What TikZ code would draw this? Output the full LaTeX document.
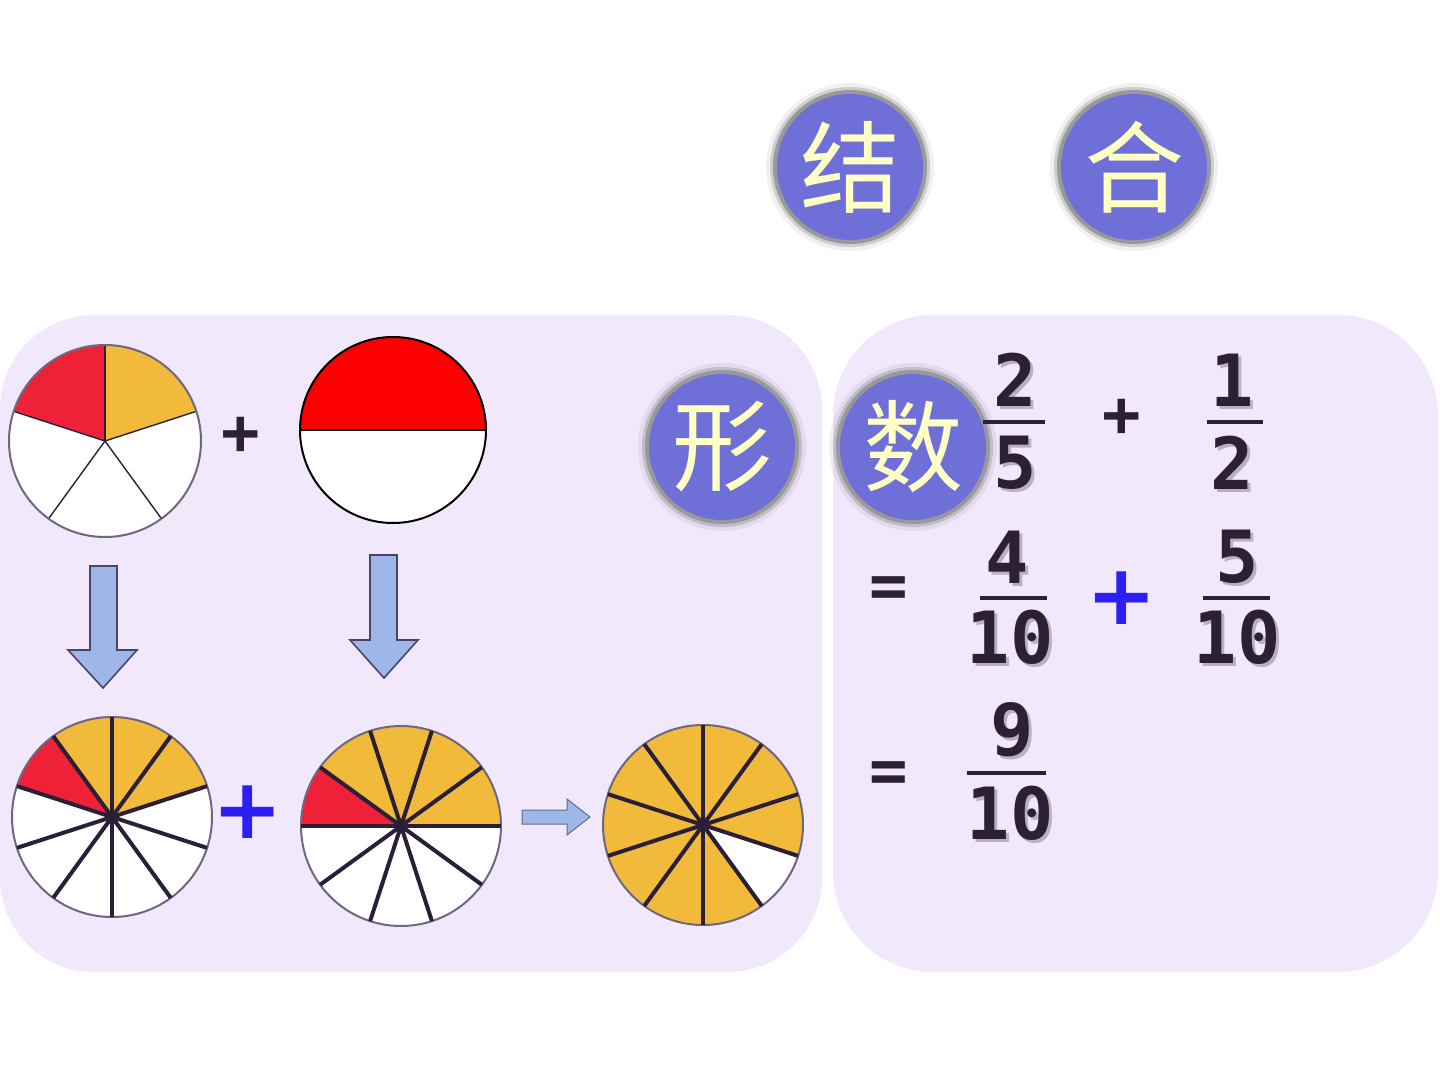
\documentclass[tikz,border=0pt]{standalone}
\usepackage{fontspec}
\newfontfamily\numfont{DejaVu Sans Mono}
\newfontfamily\signfont{DejaVu Sans}
\newfontfamily\cjk{Noto Sans CJK SC}
\usetikzlibrary{positioning}
\definecolor{panelbg}{HTML}{F2E8FC}
\definecolor{bubblefill}{HTML}{6E70D8}
\definecolor{bubbletext}{HTML}{FFFFC6}
\definecolor{piered}{HTML}{EF2139}
\definecolor{pieorange}{HTML}{F1BA3B}
\definecolor{pieline}{HTML}{2B1F38}
\definecolor{pierim}{HTML}{6F6680}
\definecolor{arrowblue}{HTML}{9FB6E8}
\definecolor{arrowedge}{HTML}{4A4468}
\definecolor{plusblue}{HTML}{2B1FF2}
\definecolor{numdark}{HTML}{2B2035}
\definecolor{numshade}{HTML}{B9B0C8}

\begin{document}
\begin{tikzpicture}[
    x=0.5pt, y=0.5pt,
    panel/.style={fill=panelbg},
    num/.style={font=\numfont\bfseries\fontsize{36}{40}\selectfont, text=numdark, inner sep=0pt},
    numsh/.style={font=\numfont\bfseries\fontsize{36}{40}\selectfont, text=numshade, inner sep=0pt},
    bar/.style={line width=2pt, draw=numdark},
    darksign/.style={font=\numfont\bfseries\fontsize{32}{40}\selectfont, text=numdark, inner sep=0pt},
    bluesign/.style={font=\signfont\bfseries\fontsize{42}{44}\selectfont, text=plusblue, inner sep=0pt},
    charbubble/.style={font=\cjk\fontsize{50}{52}\selectfont, text=bubbletext, inner sep=0pt},
    rim/.style={draw=pierim, line width=1pt},
    thinspoke/.style={draw=pieline, line width=0.7pt},
    spoke/.style={draw=pieline, line width=2pt},
    blockarrow/.style={fill=arrowblue, draw=arrowedge, line width=0.8pt, line join=miter}
]
\useasboundingbox (0,0) rectangle (1440,-1080);
\fill[white] (0,0) rectangle (1440,-1080);

% panels
\fill[panel, rounded corners=47pt] (0,-315) rectangle (822,-972);
\fill[panel, rounded corners=50pt] (833,-315) rectangle (1438,-972);

% bubbles
\foreach \x/\y/\c/\nm in {850/167/结/jie, 1134/167/合/he, 722/447/形/xing, 913/447/数/shu}{
  \fill[black, opacity=0.06] (\x,-\y) circle (84);
  \fill[black, opacity=0.14] (\x,-\y) circle (80);
  \fill[gray!80] (\x,-\y) circle (77);
  \fill[bubblefill] (\x,-\y) circle (73);
  \node[charbubble] (b-\nm) at (\x,-\y) {\c};
}

% pie 1: fifths
\coordinate (p1) at (105,-441);
\fill[white] (p1) circle (96);
\fill[piered] (p1) -- ++(90:96) arc[start angle=90, end angle=162, radius=96] -- cycle;
\fill[pieorange] (p1) -- ++(18:96) arc[start angle=18, end angle=90, radius=96] -- cycle;
\foreach \a in {18,90,...,306} \draw[thinspoke] (p1) -- ++(\a:96);
\draw[rim] (p1) circle (96);

% pie 2: halves
\coordinate (p2) at (393,-430);
\fill[white] (p2) circle (93);
\fill[red] (p2) ++(0:93) arc[start angle=0, end angle=180, radius=93] -- cycle;
\draw[black, line width=1pt] (p2) ++(180:93) -- ++(186,0);
\draw[black, line width=1pt] (p2) circle (93);

\node[darksign] (plus1) at (241,-436) {+};

% down arrows
\draw[blockarrow] (90,-566) -- (117,-566) -- (117,-650) -- (137,-650) -- (103,-688)
  -- (68,-650) -- (90,-650) -- cycle;
\draw[blockarrow] (370,-555) -- (397,-555) -- (397,-640) -- (418,-640) -- (384,-678)
  -- (350,-640) -- (370,-640) -- cycle;

% pie 3: tenths
\coordinate (p3) at (112,-817);
\fill[white] (p3) circle (100);
\fill[pieorange] (p3) -- ++(18:100) arc[start angle=18, end angle=126, radius=100] -- cycle;
\fill[piered] (p3) -- ++(126:100) arc[start angle=126, end angle=162, radius=100] -- cycle;
\draw[rim] (p3) circle (100);
\foreach \a in {18,54,...,342} \draw[spoke] (p3) -- ++(\a:100);

\node[bluesign] (plus2) at (248,-812) {+};

% pie 4: tenths
\coordinate (p4) at (401,-826);
\fill[white] (p4) circle (100);
\fill[pieorange] (p4) -- ++(0:100) arc[start angle=0, end angle=144, radius=100] -- cycle;
\fill[piered] (p4) -- ++(144:100) arc[start angle=144, end angle=180, radius=100] -- cycle;
\draw[rim] (p4) circle (100);
\foreach \a in {0,36,...,324} \draw[spoke] (p4) -- ++(\a:100);

% right arrow
\draw[blockarrow, draw=arrowblue!60!black, line width=0.5pt] (522,-810) -- (567,-810) -- (567,-799) -- (590,-817)
  -- (567,-835) -- (567,-824) -- (522,-824) -- cycle;

% pie 5: sum
\coordinate (p5) at (703,-825);
\fill[pieorange] (p5) circle (100);
\fill[white] (p5) -- ++(-54:100) arc[start angle=-54, end angle=-18, radius=100] -- cycle;
\draw[rim] (p5) circle (100);
\foreach \a in {18,54,...,342} \draw[spoke] (p5) -- ++(\a:100);

% fractions
\foreach \x/\y/\t [count=\i] in {1015/380/2, 1015/463/5, 1232/380/1, 1232/463/2,
    1007/557/4, 1010/637/10, 1237/557/5, 1237/637/10, 1012/730/9, 1010/813/10}{
  \node[numsh] (s\i) at (\x+3,-\y-3) {\t};
  \node[num] (n\i) at (\x,-\y) {\t};
}
\draw[bar] (983,-422) -- (1045,-422);
\draw[bar] (1207,-422) -- (1263,-422);
\draw[bar] (980,-598) -- (1047,-598);
\draw[bar] (1203,-598) -- (1270,-598);
\draw[bar] (967,-773) -- (1046,-773);

\node[darksign] (plus3) at (1122,-418) {+};
\node[darksign] (eq1) at (889,-592) {=};
\node[darksign] (eq2) at (889,-777) {=};
\node[bluesign] (plus4) at (1122,-598) {+};
\end{tikzpicture}
\end{document}
